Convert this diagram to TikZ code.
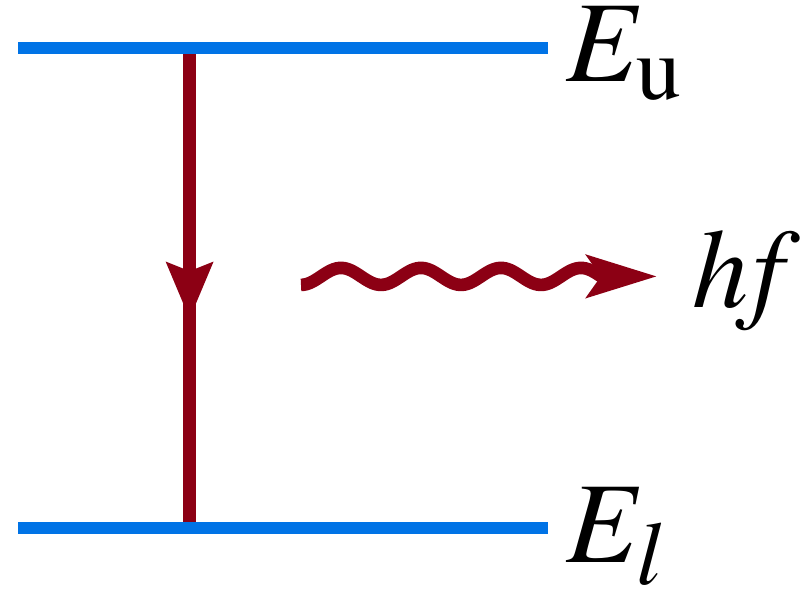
\documentclass[tikz,border=0pt]{standalone}
\usepackage{mathptmx}
\usetikzlibrary{arrows.meta,decorations.markings}
\definecolor{levelblue}{RGB}{0,115,230}
\definecolor{photonred}{RGB}{140,0,20}
\DeclareMathSizes{82}{82}{64}{52}
\DeclareMathSizes{80}{80}{62}{50}
\def\lvlfont{\fontsize{82}{90}\selectfont}
\def\hffont{\fontsize{80}{88}\selectfont}
\tikzset{
	level/.style={line width=9pt, color=levelblue},
	photon/.style={line width=9pt, color=photonred},
	lvllabel/.style={anchor=base west, inner sep=0pt, font=\lvlfont}
}

\begin{document}
\begin{tikzpicture}
		%%%%% START %%%%%
		\useasboundingbox (0, 0) rectangle (20, 15);
		
		\coordinate (upW) at (0.45, 13.8);
		\coordinate (upE) at (13.7, 13.8);
		\coordinate (lowW) at (0.45, 1.8);
		\coordinate (lowE) at (13.7, 1.8);
		\coordinate (dropTop) at (4.74, 13.8);
		\coordinate (dropBot) at (4.74, 1.8);
		\coordinate (waveEnd) at (15.025, 8.09);
		\coordinate (waveTip) at (16.425, 8.09);
		
		\draw[photon, postaction={decorate}, decoration={markings, mark=at position 0.565 with {\arrow{Stealth[length=1.4cm, width=1.125cm, inset=0.2cm]}}}] (dropTop) -- (dropBot);
		
		\draw[level] (upW) -- (upE);
		\draw[level] (lowW) -- (lowE);
		
		\draw[photon, line join=round, -{Stealth[length=1.75cm, width=1.05cm, inset=0.35cm]}] plot[domain=7.525:15.025, samples=120, smooth] (\x, {8.09 - 0.2125*cos(180*(\x - 7.525))}) -- (waveTip);
		
		\node[lvllabel] (Eu) at (14.15, 12.95) {$E_{\mathrm{u}}$};
		\node[lvllabel, font=\hffont] (hf) at (17.3, 7.3) {$h\mkern-2mu f$};
		\node[lvllabel] (El) at (14.15, 0.95) {$E_l$};
		
		%%%%% END %%%%%
\end{tikzpicture}
\end{document}
